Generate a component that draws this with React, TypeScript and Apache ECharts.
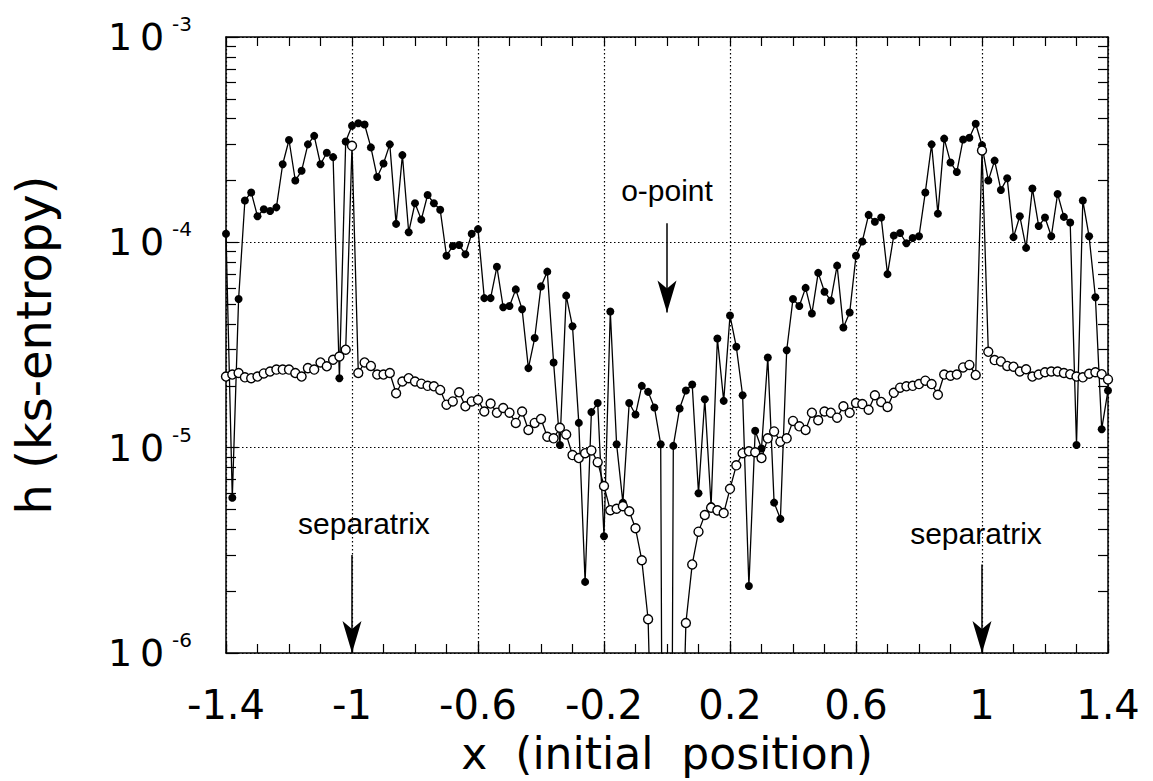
import React, { useEffect, useRef } from 'react';
import * as echarts from 'echarts';

// x (initial position): sampled positions
const X_POSITION = [
  -1.40, -1.38, -1.36, -1.34, -1.32, -1.30, -1.28, -1.26, -1.24, -1.22,
  -1.20, -1.18, -1.16, -1.14, -1.12, -1.10, -1.08, -1.06, -1.04, -1.02,
  -1.00, -0.98, -0.96, -0.94, -0.92, -0.90, -0.88, -0.86, -0.84, -0.82,
  -0.80, -0.78, -0.76, -0.74, -0.72, -0.70, -0.68, -0.66, -0.64, -0.62,
  -0.60, -0.58, -0.56, -0.54, -0.52, -0.50, -0.48, -0.46, -0.44, -0.42,
  -0.40, -0.38, -0.36, -0.34, -0.32, -0.30, -0.28, -0.26, -0.24, -0.22,
  -0.20, -0.18, -0.16, -0.14, -0.12, -0.10, -0.08, -0.06, -0.04, -0.02,
  0.00, 0.02, 0.04, 0.06, 0.08, 0.10, 0.12, 0.14, 0.16, 0.18,
  0.20, 0.22, 0.24, 0.26, 0.28, 0.30, 0.32, 0.34, 0.36, 0.38,
  0.40, 0.42, 0.44, 0.46, 0.48, 0.50, 0.52, 0.54, 0.56, 0.58,
  0.60, 0.62, 0.64, 0.66, 0.68, 0.70, 0.72, 0.74, 0.76, 0.78,
  0.80, 0.82, 0.84, 0.86, 0.88, 0.90, 0.92, 0.94, 0.96, 0.98,
  1.00, 1.02, 1.04, 1.06, 1.08, 1.10, 1.12, 1.14, 1.16, 1.18,
  1.20, 1.22, 1.24, 1.26, 1.28, 1.30, 1.32, 1.34, 1.36, 1.38,
  1.40,
];

// h (ks-entropy), filled circles
const H_FILLED = [
  1.1e-4, 5.7e-6, 5.3e-5, 1.6e-4, 1.75e-4, 1.34e-4, 1.45e-4, 1.42e-4, 1.48e-4, 2.4e-4,
  3.15e-4, 2.0e-4, 2.23e-4, 3.0e-4, 3.3e-4, 2.4e-4, 2.73e-4, 2.6e-4, 2.18e-5, 3.1e-4,
  3.7e-4, 3.8e-4, 3.75e-4, 2.9e-4, 2.08e-4, 2.42e-4, 3.0e-4, 1.23e-4, 2.66e-4, 1.12e-4,
  1.55e-4, 1.29e-4, 1.7e-4, 1.55e-4, 1.44e-4, 8.6e-5, 9.6e-5, 9.7e-5, 8.75e-5, 1.1e-4,
  1.16e-4, 5.35e-5, 5.35e-5, 7.6e-5, 4.83e-5, 4.9e-5, 5.9e-5, 4.72e-5, 2.44e-5, 3.42e-5,
  6.1e-5, 7.2e-5, 2.6e-5, 1.03e-5, 5.5e-5, 3.9e-5, 1.32e-5, 2.22e-6, 1.49e-5, 1.65e-5,
  3.7e-6, 4.6e-5, 1.04e-5, 5.4e-6, 1.65e-5, 1.45e-5, 2.0e-5, 1.87e-5, 1.57e-5, 1.04e-5,
  1e-12, 1.02e-5, 1.55e-5, 1.9e-5, 2.03e-5, 6.0e-6, 1.72e-5, 5.2e-6, 3.4e-5, 1.69e-5,
  4.4e-5, 3.1e-5, 1.8e-5, 2.12e-6, 1.21e-5, 9.9e-6, 2.75e-5, 5.4e-6, 4.5e-6, 2.98e-5,
  5.3e-5, 4.9e-5, 6.0e-5, 4.5e-5, 7.1e-5, 5.75e-5, 5.2e-5, 7.7e-5, 3.85e-5, 4.55e-5,
  8.6e-5, 1.01e-4, 1.36e-4, 1.26e-4, 1.32e-4, 7.0e-5, 1.08e-4, 1.11e-4, 9.9e-5, 1.05e-4,
  1.07e-4, 1.75e-4, 3.0e-4, 1.38e-4, 3.2e-4, 2.45e-4, 2.2e-4, 3.17e-4, 3.23e-4, 3.78e-4,
  2.97e-4, 2.0e-4, 2.5e-4, 1.8e-4, 2.05e-4, 1.06e-4, 1.34e-4, 9.4e-5, 1.83e-4, 1.2e-4,
  1.32e-4, 1.07e-4, 1.72e-4, 1.33e-4, 1.25e-4, 1.03e-5, 1.6e-4, 1.07e-4, 5.4e-5, 1.23e-5,
  1.9e-5,
];

// h (ks-entropy), open circles
const H_OPEN = [
  2.22e-5, 2.27e-5, 2.31e-5, 2.2e-5, 2.18e-5, 2.22e-5, 2.3e-5, 2.35e-5, 2.4e-5, 2.4e-5,
  2.4e-5, 2.31e-5, 2.22e-5, 2.44e-5, 2.4e-5, 2.6e-5, 2.49e-5, 2.68e-5, 2.78e-5, 3.0e-5,
  2.95e-4, 2.31e-5, 2.6e-5, 2.5e-5, 2.27e-5, 2.27e-5, 2.31e-5, 1.84e-5, 2.1e-5, 2.18e-5,
  2.1e-5, 2.05e-5, 2.0e-5, 1.99e-5, 1.91e-5, 1.62e-5, 1.68e-5, 1.86e-5, 1.59e-5, 1.68e-5,
  1.71e-5, 1.5e-5, 1.64e-5, 1.48e-5, 1.56e-5, 1.48e-5, 1.32e-5, 1.5e-5, 1.22e-5, 1.32e-5,
  1.38e-5, 1.13e-5, 1.11e-5, 1.25e-5, 1.16e-5, 9.2e-6, 8.9e-6, 9.4e-6, 9.7e-6, 8.5e-6,
  6.5e-6, 4.96e-6, 5.04e-6, 5.19e-6, 4.9e-6, 4.05e-6, 2.83e-6, 1.46e-6, 1e-7, 1e-12,
  1e-12, 1e-12, 1e-7, 1.4e-6, 2.7e-6, 3.9e-6, 4.7e-6, 5.1e-6, 4.95e-6, 4.8e-6,
  6.3e-6, 8.2e-6, 9.4e-6, 9.6e-6, 9.5e-6, 8.9e-6, 1.11e-5, 1.2e-5, 1.07e-5, 1.11e-5,
  1.35e-5, 1.27e-5, 1.22e-5, 1.48e-5, 1.36e-5, 1.5e-5, 1.48e-5, 1.4e-5, 1.59e-5, 1.48e-5,
  1.65e-5, 1.63e-5, 1.53e-5, 1.8e-5, 1.67e-5, 1.58e-5, 1.85e-5, 1.96e-5, 1.99e-5, 2.0e-5,
  2.04e-5, 2.12e-5, 2.04e-5, 1.81e-5, 2.27e-5, 2.24e-5, 2.27e-5, 2.46e-5, 2.53e-5, 2.26e-5,
  2.8e-4, 2.93e-5, 2.67e-5, 2.63e-5, 2.5e-5, 2.48e-5, 2.35e-5, 2.41e-5, 2.22e-5, 2.27e-5,
  2.33e-5, 2.35e-5, 2.35e-5, 2.31e-5, 2.28e-5, 2.22e-5, 2.2e-5, 2.29e-5, 2.33e-5, 2.28e-5,
  2.15e-5,
];

const X_TICK_LABELS = [-1.4, -1, -0.6, -0.2, 0.2, 0.6, 1, 1.4];
const Y_DECADE_EXPONENTS = [-6, -5, -4];
const Y_MINOR_MANTISSAS = [2, 3, 4, 5, 6, 7, 8, 9];

// annotations: arrows [x, from h, to h] and texts
const ARROW_X = [0, -1, 1];
const ARROW_FROM = [1.24e-4, 3.0e-6, 2.7e-6];
const ARROW_TO = [4.55e-5, 1e-6, 1e-6];
const NOTE_TEXT = ['o-point', 'separatrix', 'separatrix'];
const NOTE_X = [0, -0.962, 0.981];
const NOTE_Y = [1.78e-4, 4.25e-6, 3.8e-6];

const FONT = 'DejaVu Sans';
const BLACK = '#000';
const DOTTED = { color: BLACK, width: 1.2, type: [1.5, 2.5] as any };
// narrow arrowhead, tip at the top of its box
const ARROW_HEAD = 'path://M10,0 L20,40 L10,30 L0,40 Z';

export default function App() {
  const ref = useRef<HTMLDivElement>(null);

  useEffect(() => {
    if (!ref.current) return;
    const chart = echarts.init(ref.current, null, { renderer: 'svg' });

    const minorLog: number[] = [];
    Y_DECADE_EXPONENTS.forEach((n) => Y_MINOR_MANTISSAS.forEach((m) => minorLog.push(n + Math.log10(m))));
    const rightTicks = minorLog.concat([-5, -4]);

    const filledData = X_POSITION.map((x, i) => [x, H_FILLED[i]]);
    const openData = X_POSITION.map((x, i) => [x, H_OPEN[i]]);

    const axisLineStyle = { color: BLACK, width: 1.5 };
    const tickStyle = { color: BLACK, width: 1.2 };

    const option: any = {
      animation: false,
      backgroundColor: '#fff',
      grid: { left: 226, right: 45, top: 37, bottom: 128, containLabel: false },
      xAxis: [
        {
          type: 'value', min: -1.4, max: 1.4, interval: 0.1, position: 'bottom',
          axisLine: { show: true, onZero: false, lineStyle: axisLineStyle },
          axisTick: { show: true, inside: true, length: 9, lineStyle: tickStyle },
          axisLabel: { show: false }, splitLine: { show: false },
          name: 'x\u00a0\u00a0(initial\u00a0\u00a0position)', nameLocation: 'middle', nameGap: 78,
          nameTextStyle: { fontFamily: FONT, fontSize: 44, color: BLACK },
        },
        {
          type: 'value', min: -1.4, max: 1.4, interval: 0.1, position: 'top',
          axisLine: { show: true, onZero: false, lineStyle: axisLineStyle },
          axisTick: { show: true, inside: true, length: 9, lineStyle: tickStyle },
          axisLabel: { show: false }, splitLine: { show: false },
        },
        {
          type: 'value', min: -1.4, max: 1.4, position: 'bottom',
          axisLine: { show: false, onZero: false },
          axisTick: { show: true, inside: true, length: 12, lineStyle: tickStyle, customValues: X_TICK_LABELS },
          axisLabel: {
            show: true, customValues: X_TICK_LABELS, margin: 32,
            fontFamily: FONT, fontSize: 40, color: BLACK,
          },
          splitLine: { show: true, lineStyle: DOTTED },
        },
      ],
      yAxis: [
        {
          type: 'log', logBase: 10, min: 1e-6, max: 1e-3, position: 'left',
          axisLine: { show: true, onZero: false, lineStyle: axisLineStyle },
          axisTick: { show: true, inside: true, length: 12, lineStyle: tickStyle },
          axisLabel: {
            show: true, margin: 34,
            formatter: (v: number) => `{b|1\u20090}{s|${Math.round(Math.log10(v))}}`,
            rich: {
              b: { fontFamily: FONT, fontSize: 38, lineHeight: 46, color: BLACK, verticalAlign: 'middle' },
              s: { fontFamily: FONT, fontSize: 20, lineHeight: 20, color: BLACK, verticalAlign: 'top', padding: [0, 0, 0, 8] },
            },
          },
          splitLine: { show: true, lineStyle: DOTTED },
          name: 'h (ks-entropy)', nameLocation: 'middle', nameGap: 168,
          nameTextStyle: { fontFamily: FONT, fontSize: 48, color: BLACK },
        },
        {
          type: 'value', min: -6, max: -3, position: 'left',
          axisLine: { show: false, onZero: false },
          axisTick: { show: true, inside: true, length: 10, lineStyle: tickStyle, customValues: minorLog },
          axisLabel: { show: false }, splitLine: { show: false },
        },
        {
          type: 'value', min: -6, max: -3, position: 'right',
          axisLine: { show: true, onZero: false, lineStyle: axisLineStyle },
          axisTick: { show: true, inside: true, length: 10, lineStyle: tickStyle, customValues: rightTicks },
          axisLabel: { show: false }, splitLine: { show: false },
        },
      ],
      series: [
        {
          type: 'line', xAxisIndex: 0, yAxisIndex: 0, data: filledData,
          symbol: 'circle', symbolSize: 8, showSymbol: true, showAllSymbol: true, clip: true,
          itemStyle: { color: BLACK },
          lineStyle: { color: BLACK, width: 1.3 },
          z: 2,
          markLine: {
            silent: true, animation: false,
            symbol: ['none', ARROW_HEAD], symbolSize: 20, symbolKeepAspect: false,
            lineStyle: { color: BLACK, width: 1.5, type: 'solid' },
            label: { show: false },
            data: ARROW_X.map((x, i) => [
              { coord: [x, ARROW_FROM[i]], symbol: 'none' },
              { coord: [x, ARROW_TO[i]], symbol: ARROW_HEAD, symbolSize: [19, 32], symbolOffset: [0, 16], itemStyle: { color: BLACK } },
            ]),
          },
          markPoint: {
            silent: true, animation: false,
            symbol: 'circle', symbolSize: 1,
            itemStyle: { color: 'rgba(0,0,0,0)' },
            label: {
              show: true, position: 'inside', formatter: '{b}',
              fontFamily: 'Liberation Sans', fontSize: 30, color: BLACK,
            },
            data: NOTE_TEXT.map((t, i) => ({ name: t, coord: [NOTE_X[i], NOTE_Y[i]] })),
          },
        },
        {
          type: 'line', xAxisIndex: 0, yAxisIndex: 0, data: openData,
          symbol: 'circle', symbolSize: 9, showSymbol: true, showAllSymbol: true, clip: true,
          itemStyle: { color: '#fff', borderColor: BLACK, borderWidth: 1.4 },
          lineStyle: { color: BLACK, width: 1.3 },
          z: 3,
        },
      ],
    };

    chart.setOption(option);
    return () => chart.dispose();
  }, []);

  return (
    <div
      ref={ref}
      style={{ position: 'fixed', left: 0, top: 0, width: 1153, height: 781, background: '#fff' }}
    />
  );
}
